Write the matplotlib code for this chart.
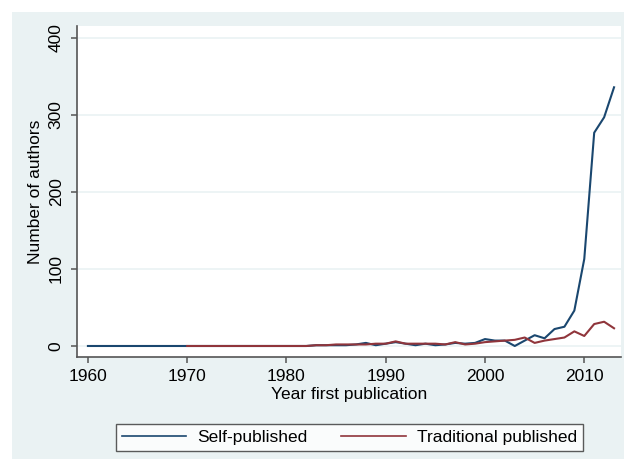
import matplotlib
matplotlib.use("Agg")
import matplotlib.pyplot as plt
from matplotlib.patches import Rectangle
import numpy as np

plt.rcParams["font.family"] = ["Liberation Sans", "DejaVu Sans"]

# data
years_self = np.arange(1960, 2014)
self_published = [0] * 23 + [
    1, 1, 1, 1, 2, 4, 1, 3, 5, 3,       # 1983-1992
    1, 3, 1, 2, 4, 3, 4, 9, 7, 7,       # 1993-2002
    0, 7, 14, 10, 22, 25, 46, 113, 277, 297,  # 2003-2012
    336,                                # 2013
]
years_trad = np.arange(1970, 2014)
traditional = [0] * 13 + [
    1, 1, 2, 2, 2, 2, 3, 3, 6, 3,       # 1983-1992
    3, 3, 3, 2, 5, 2, 3, 5, 6, 7,       # 1993-2002
    8, 11, 4, 7, 9, 11, 19, 13, 28.5, 31.5,  # 2003-2012
    23,                                 # 2013
]
x_ticks = [1960, 1970, 1980, 1990, 2000, 2010]
y_ticks = [0, 100, 200, 300, 400]

navy = "#1a476f"
maroon = "#90353b"
bg = "#eaf2f3"
axis_col = "#555555"

fig = plt.figure(figsize=(6.24, 4.59), dpi=100)
fig.patch.set_facecolor("white")
# Stata-like outer background (image is cropped right/bottom)
fig.patches.append(Rectangle((12 / 624, 0), 1, 1 - 12 / 459, transform=fig.transFigure,
                             facecolor=bg, edgecolor="none", zorder=-10))

ax = fig.add_axes([77 / 624, 1 - 357 / 459, (621 - 77) / 624, (357 - 26) / 459])
ax.set_facecolor("white")

ax.plot(years_self, self_published, color=navy, lw=1.5, label="Self-published")
ax.plot(years_trad, traditional, color=maroon, lw=1.5, label="Traditional published")

ax.set_xlim(1958.9, 2013.7)
ax.set_ylim(-14.3, 415.6)
ax.set_xticks(x_ticks)
ax.set_yticks(y_ticks)
ax.grid(axis="y", color=bg, lw=1.2)
ax.set_axisbelow(True)

for s in ["top", "right"]:
    ax.spines[s].set_visible(False)
for s in ["left", "bottom"]:
    ax.spines[s].set_color(axis_col)
    ax.spines[s].set_linewidth(1.2)

ax.tick_params(axis="both", colors=axis_col, labelcolor="black", length=4.5,
               width=1.1, labelsize=12.5)
ax.tick_params(axis="x", pad=4)
ax.tick_params(axis="y", pad=5)
for lab in ax.get_yticklabels():
    lab.set_rotation(90)
    lab.set_va("center")

ax.set_xlabel("Year first publication", fontsize=12.5, labelpad=2)
ax.set_ylabel("Number of authors", fontsize=12.5, labelpad=4)

leg = fig.legend(loc="lower left", bbox_to_anchor=(116 / 624, 1 - 451 / 459, (583 - 116) / 624, 32 / 459),
                 mode="expand", ncol=2, fontsize=12.5, frameon=True, fancybox=False,
                 handlelength=3.7, handletextpad=0.65, borderaxespad=0, borderpad=0.35)
leg.get_frame().set_edgecolor("#333333")
leg.get_frame().set_linewidth(1.0)
for line in leg.get_lines():
    line.set_linewidth(1.2)

fig.savefig("out.png", dpi=100, facecolor=fig.get_facecolor())
